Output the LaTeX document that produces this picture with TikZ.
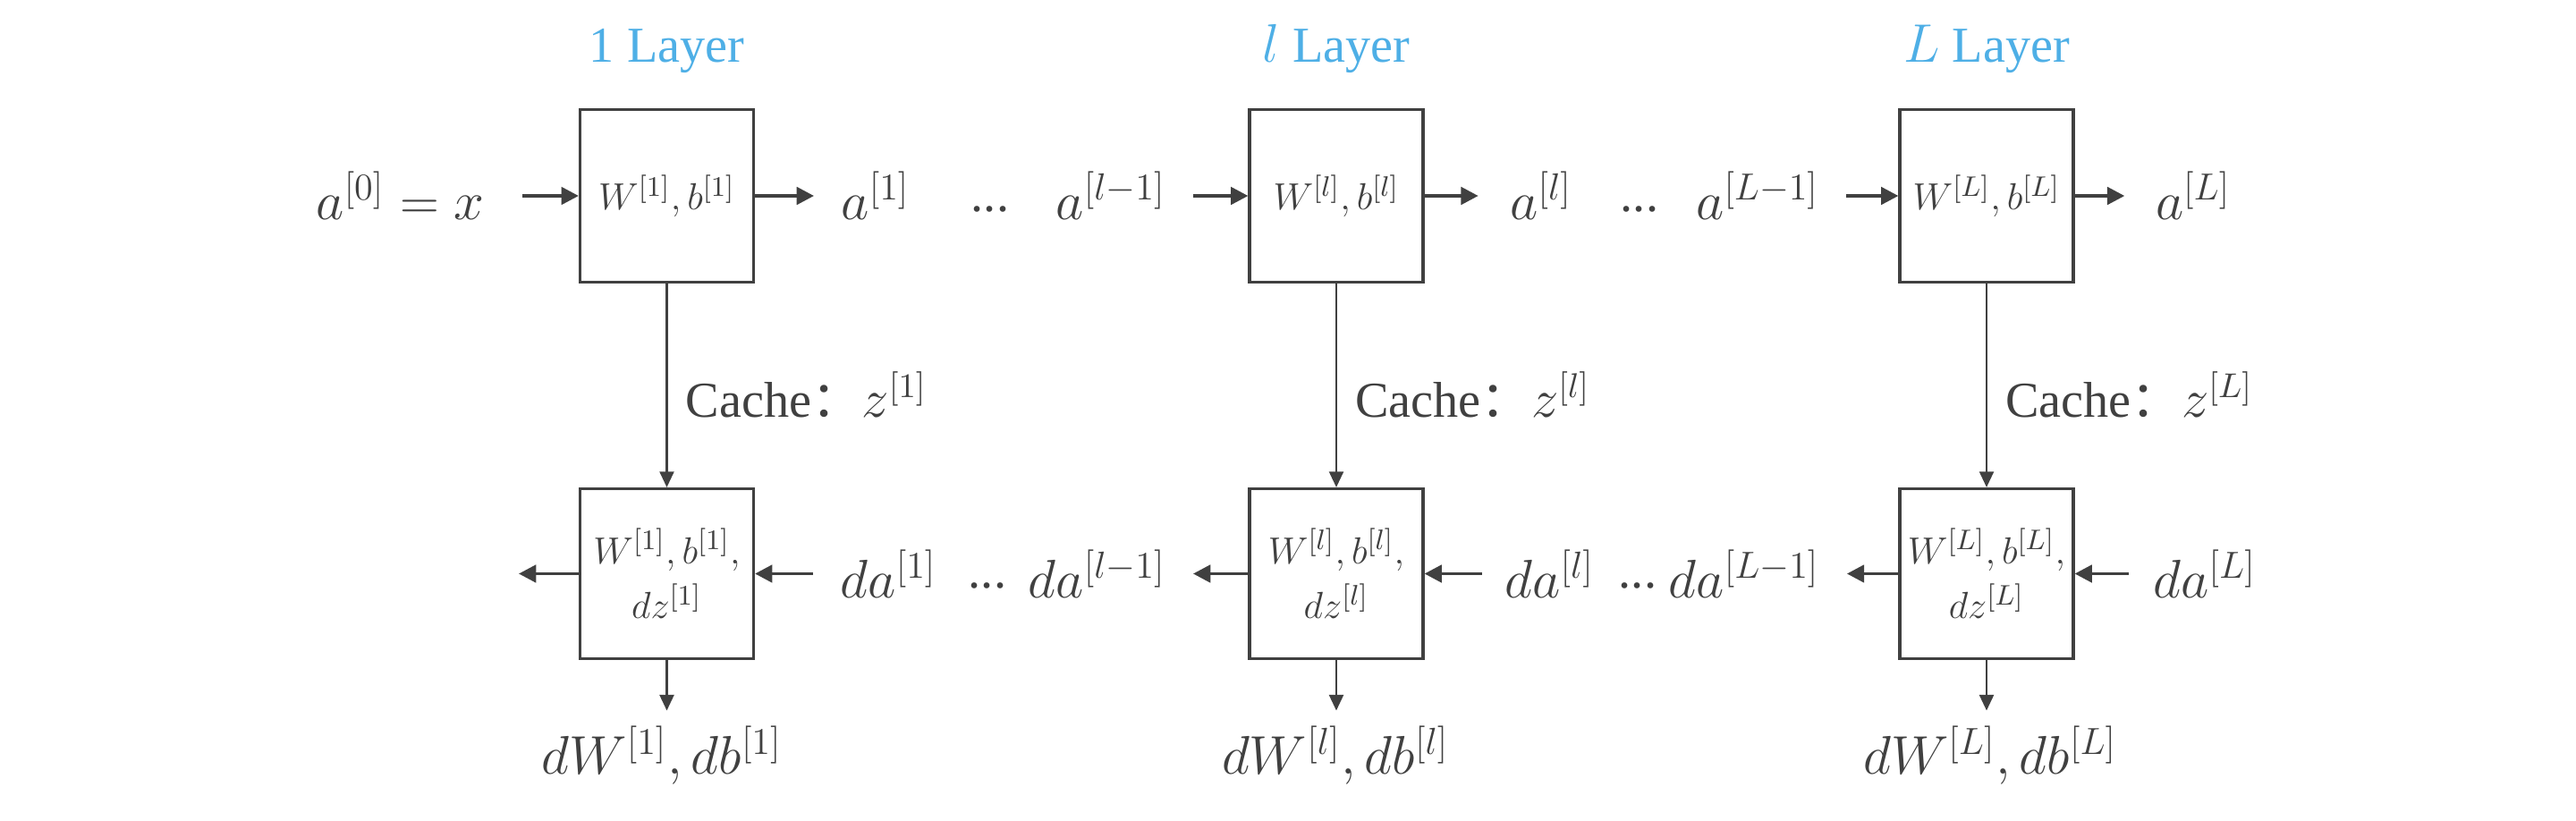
\documentclass[tikz,border=0pt]{standalone}
\usepackage{fontspec}
\setmainfont{Liberation Serif}
\newfontfamily\cjk{Noto Sans CJK SC}
\usepackage{amsmath}
\usepackage{xcolor}
\usepackage{tikz}
\usetikzlibrary{arrows.meta, positioning}

\definecolor{ink}{RGB}{64,64,64}
\definecolor{layerblue}{RGB}{78,175,230}

\begin{document}
\begin{tikzpicture}[
    every node/.style={text=ink},
    fwdbox/.style={draw=ink, line width=0.9pt, minimum width=1.94cm, minimum height=1.93cm, inner sep=0pt, font=\fontsize{12.5}{15}\selectfont},
    bwdbox/.style={draw=ink, line width=0.9pt, minimum width=1.94cm, minimum height=1.90cm, inner sep=0pt, align=center, font=\fontsize{12.5}{17.6}\selectfont},
    sym/.style={inner sep=0pt, font=\fontsize{17}{20}\selectfont},
    gap/.style={inner sep=0pt, font=\fontsize{16}{19}\selectfont},
    layertitle/.style={text=layerblue, font=\fontsize{16}{19}\selectfont},
    cachelbl/.style={anchor=west, xshift=0.2cm, yshift=-0.1cm, inner sep=0pt, font=\fontsize{16}{19}\selectfont},
    flow/.style={draw=ink, line width=1.1pt, -{Triangle[length=5.5pt, width=5.5pt]}},
    link/.style={draw=ink, line width=0.75pt, -{Triangle[length=5pt, width=4.5pt]}},
]
\useasboundingbox (0,0) rectangle (28.8,-9.18);

% Forward pass
\node[fwdbox] (fwd1) at (7.455,-2.19) {$W^{[1]},b^{[1]}$};
\node[fwdbox] (fwdl) at (14.94,-2.19) {$W^{[l]},b^{[l]}$};
\node[fwdbox] (fwdL) at (22.21,-2.19) {$W^{[L]},b^{[L]}$};

\node[layertitle, above=0.27cm of fwd1] (t1) {1 Layer};
\node[layertitle, above=0.27cm of fwdl] (tl) {$l$ Layer};
\node[layertitle, above=0.27cm of fwdL] (tL) {$L$ Layer};

\node[sym] (a0) at (4.475,-2.19) {$a^{[0]}=x$};
\node[sym] (a1) at (9.79,-2.19) {$a^{[1]}$};
\node[gap] (dots1) at (11.07,-2.34) {...};
\node[sym] (alm1) at (12.42,-2.19) {$a^{[l-1]}$};
\node[sym] (al) at (17.23,-2.19) {$a^{[l]}$};
\node[gap] (dots2) at (18.33,-2.34) {...};
\node[sym] (aLm1) at (19.65,-2.19) {$a^{[L-1]}$};
\node[sym] (aL) at (24.52,-2.19) {$a^{[L]}$};

\draw[flow, shorten <=0.42cm] (a0) -- (fwd1);
\draw[flow, shorten >=0.3cm] (fwd1) -- (a1);
\draw[flow, shorten <=0.3cm] (alm1) -- (fwdl);
\draw[flow, shorten >=0.35cm] (fwdl) -- (al);
\draw[flow, shorten <=0.3cm] (aLm1) -- (fwdL);
\draw[flow, shorten >=0.34cm] (fwdL) -- (aL);

% Backward pass
\node[bwdbox] (bwd1) at (7.455,-6.415) {$W^{[1]},b^{[1]},$\\$dz^{[1]}$};
\node[bwdbox] (bwdl) at (14.94,-6.415) {$W^{[l]},b^{[l]},$\\$dz^{[l]}$};
\node[bwdbox] (bwdL) at (22.21,-6.415) {$W^{[L]},b^{[L]},$\\$dz^{[L]}$};

\node[sym] (da1) at (9.935,-6.415) {$da^{[1]}$};
\node[gap] (dots3) at (11.04,-6.55) {...};
\node[sym] (dalm1) at (12.265,-6.415) {$da^{[l-1]}$};
\node[sym] (dal) at (17.325,-6.415) {$da^{[l]}$};
\node[gap] (dots4) at (18.31,-6.55) {...};
\node[sym] (daLm1) at (19.5,-6.415) {$da^{[L-1]}$};
\node[sym] (daL) at (24.65,-6.415) {$da^{[L]}$};
\coordinate (bout) at (5.80,-6.415);

\draw[flow] (bwd1) -- (bout);
\draw[flow, shorten <=0.3cm] (da1) -- (bwd1);
\draw[flow, shorten >=0.3cm] (bwdl) -- (dalm1);
\draw[flow, shorten <=0.25cm] (dal) -- (bwdl);
\draw[flow, shorten >=0.3cm] (bwdL) -- (daLm1);
\draw[flow, shorten <=0.27cm] (daL) -- (bwdL);

% Cache links
\draw[link] (fwd1) -- node[cachelbl] {Cache\cjk{：}$z^{[1]}$} (bwd1);
\draw[link] (fwdl) -- node[cachelbl] {Cache\cjk{：}$z^{[l]}$} (bwdl);
\draw[link] (fwdL) -- node[cachelbl] {Cache\cjk{：}$z^{[L]}$} (bwdL);

% Gradients
\node[sym] (dW1) at (7.40,-8.45) {$dW^{[1]},db^{[1]}$};
\node[sym] (dWl) at (14.93,-8.45) {$dW^{[l]},db^{[l]}$};
\node[sym] (dWL) at (22.25,-8.45) {$dW^{[L]},db^{[L]}$};

\draw[link, shorten >=0.17cm] (bwd1) -- (bwd1 |- dW1.north);
\draw[link, shorten >=0.17cm] (bwdl) -- (bwdl |- dWl.north);
\draw[link, shorten >=0.17cm] (bwdL) -- (bwdL |- dWL.north);

\end{tikzpicture}
\end{document}
